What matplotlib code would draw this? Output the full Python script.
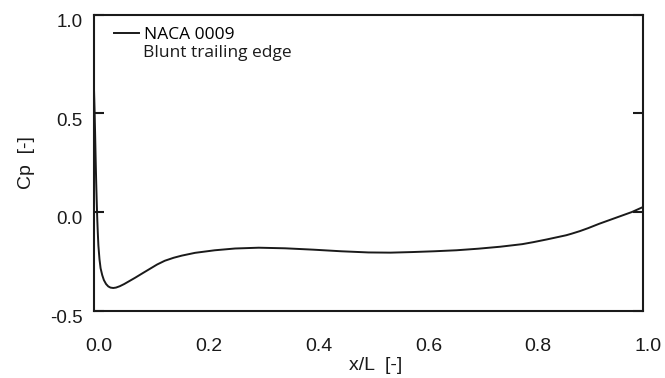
import matplotlib

matplotlib.use("Agg")
import matplotlib.pyplot as plt
from matplotlib.transforms import ScaledTranslation

# Pressure coefficient along the chord, NACA 0009 with blunt trailing edge
x_over_l = [0.000, 0.001, 0.002, 0.003, 0.004, 0.005, 0.006, 0.007, 0.008,
            0.010, 0.012, 0.015, 0.018, 0.022, 0.026, 0.030, 0.035, 0.040,
            0.047, 0.055, 0.065, 0.075, 0.088, 0.100, 0.115, 0.129, 0.145,
            0.160, 0.184, 0.220, 0.257, 0.300, 0.348, 0.400, 0.450, 0.500,
            0.540, 0.580, 0.620, 0.660, 0.700, 0.740, 0.780, 0.800, 0.825,
            0.845, 0.860, 0.870, 0.885, 0.900, 0.920, 0.940, 0.960, 0.980,
            1.000]
cp = [0.62, 0.52, 0.40, 0.27, 0.15, 0.05, -0.04, -0.11, -0.17,
      -0.24, -0.285, -0.32, -0.345, -0.365, -0.377, -0.383, -0.385, -0.383,
      -0.376, -0.365, -0.349, -0.333, -0.311, -0.291, -0.266, -0.247, -0.232,
      -0.221, -0.207, -0.194, -0.185, -0.181, -0.184, -0.191, -0.199, -0.205,
      -0.206, -0.203, -0.199, -0.194, -0.186, -0.176, -0.163, -0.153, -0.139,
      -0.127, -0.118, -0.110, -0.097, -0.082, -0.060, -0.040, -0.020, 0.000,
      0.025]

x_ticks = [0.0, 0.2, 0.4, 0.6, 0.8, 1.0]
y_ticks = [-0.5, 0.0, 0.5, 1.0]

TICK_FONT = ["Liberation Sans", "DejaVu Sans"]
LABEL_FONT = ["Liberation Sans Narrow", "Liberation Sans", "DejaVu Sans"]
LEGEND_FONT = ["Open Sans", "DejaVu Sans"]
INK = "#1a1a1a"

fig = plt.figure(figsize=(6.65, 3.78), dpi=100)
ax = fig.add_axes([94 / 665, 1 - 310.7 / 378, 549 / 665, 296.2 / 378])

ax.plot(x_over_l, cp, color=INK, lw=1.4, label="NACA 0009",
        solid_joinstyle="round")
ax.set_xlim(0, 1)
ax.set_ylim(-0.5, 1.0)

ax.set_xticks(x_ticks)
ax.set_xticklabels([f"{v:.1f}" for v in x_ticks])
ax.set_yticks(y_ticks)
ax.set_yticklabels([f"{v:.1f}" for v in y_ticks])

ax.tick_params(axis="x", length=0, pad=20, labelsize=14, labelcolor=INK)
ax.tick_params(axis="y", direction="in", length=7, width=1.5, right=True,
               pad=8, labelsize=13.5, labelcolor=INK, color=INK)
for spine in ax.spines.values():
    spine.set_linewidth(1.5)
    spine.set_color(INK)

# tick labels sit a bit right / below their ticks
dx = ScaledTranslation(5 / 100, 0, fig.dpi_scale_trans)
dy = ScaledTranslation(0, -6 / 100, fig.dpi_scale_trans)
for lab in ax.get_xticklabels():
    lab.set_family(TICK_FONT)
    lab.set_transform(lab.get_transform() + dx)
for lab in ax.get_yticklabels():
    lab.set_family(TICK_FONT)
    lab.set_transform(lab.get_transform() + dy)

ax.set_xlabel("x/L  [-]", family=LABEL_FONT, fontsize=14, color=INK)
ax.set_ylabel("Cp  [-]", family=LABEL_FONT, fontsize=14, color=INK)
ax.xaxis.set_label_coords(0.513, -0.155)
ax.yaxis.set_label_coords(-0.108, 0.5)

ax.legend(loc="upper left", frameon=False, handlelength=1.45,
          handletextpad=0.3, borderaxespad=0.3,
          prop={"family": LEGEND_FONT, "size": 12.5},
          bbox_to_anchor=(0.0145, 1.0))
ax.text((143 - 94) / 549, 1 - (57 - 14.5) / 296.2, "Blunt trailing edge",
        transform=ax.transAxes, family=LEGEND_FONT, fontsize=12.5,
        color=INK, va="baseline")

fig.savefig("out.png", dpi=100, facecolor="white")
